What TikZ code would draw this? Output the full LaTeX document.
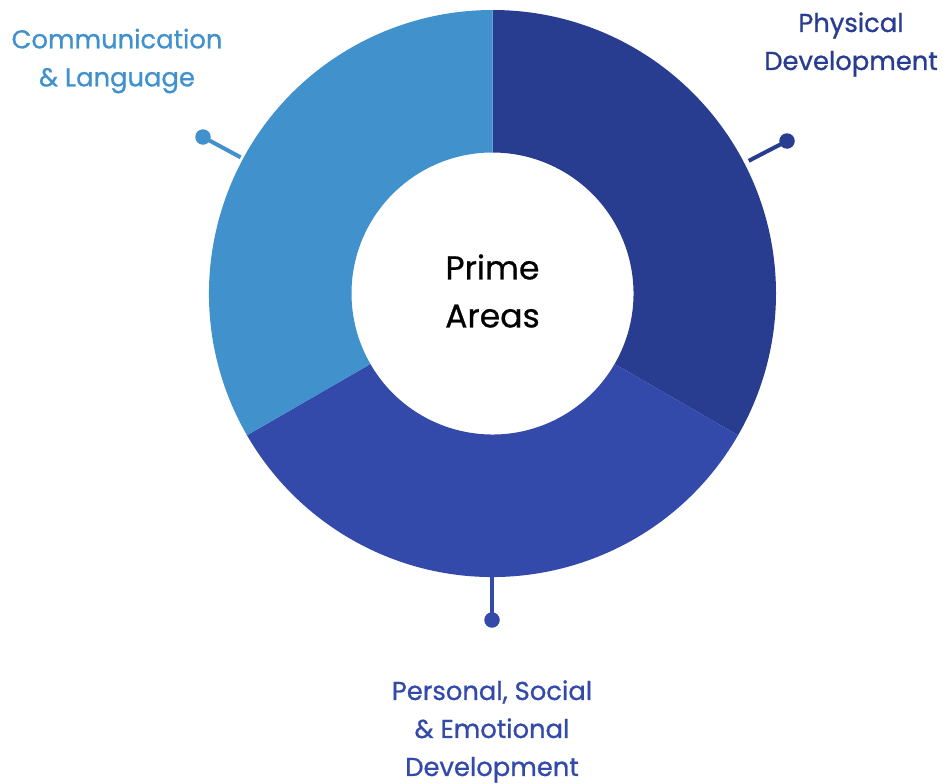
\documentclass[tikz,border=0pt]{standalone}
\usepackage{fontspec}
\setmainfont{Poppins}
\newfontfamily\medfont[FakeBold=0.9]{Poppins}
\newfontfamily\ctrfont[FakeBold=0.6]{Poppins}
\usetikzlibrary{calc}
\definecolor{cLight}{HTML}{4091CC}
\definecolor{cDark}{HTML}{283D8F}
\definecolor{cMid}{HTML}{334AAA}
\begin{document}
\begin{tikzpicture}[x=1pt,y=-1pt,
  lbl/.style={align=center,font=\medfont\fontsize{25.8}{38}\selectfont,inner sep=0pt},
  dotnode/.style={circle,fill,inner sep=0pt,minimum size=15.5pt},
  conn/.style={line width=4pt}]
\useasboundingbox (0,0) rectangle (948,784);
\coordinate (c) at (492.5,293.5);
\def\Ro{283.5}\def\Ri{141}
\fill[cDark] (c) ++(-90:\Ro) arc[start angle=-90,end angle=30,radius=\Ro] -- ++(210:{\Ro-\Ri}) arc[start angle=30,end angle=-90,radius=\Ri] -- cycle;
\fill[cMid] (c) ++(30:\Ro) arc[start angle=30,end angle=150,radius=\Ro] -- ++(-30:{\Ro-\Ri}) arc[start angle=150,end angle=30,radius=\Ri] -- cycle;
\fill[cLight] (c) ++(150:\Ro) arc[start angle=150,end angle=270,radius=\Ro] -- ++(90:{\Ro-\Ri}) arc[start angle=270,end angle=150,radius=\Ri] -- cycle;
\node[font=\ctrfont\fontsize{33}{48}\selectfont,align=center,inner sep=0pt] (center) at (492.5,291) {Prime\\Areas};
\node[dotnode,fill=cLight] (dL) at (203,137) {};
\node[dotnode,fill=cDark] (dR) at (787,141) {};
\node[dotnode,fill=cMid] (dB) at (492,620) {};
\coordinate (eL) at ($(c)!0.87!(dL)$);
\coordinate (eR) at ($(c)!0.87!(dR)$);
\coordinate (eB) at (492,576);
\draw[conn,cLight] (dL.center) -- (eL);
\draw[conn,cDark] (dR.center) -- (eR);
\draw[conn,cMid] (dB.center) -- (eB);
\node[lbl,text=cLight] (tL) at (117,61) {Communication\\\& Language};
\node[lbl,text=cDark] (tR) at (851,44.5) {Physical\\Development};
\node[lbl,text=cMid] (tB) at (492,731.5) {Personal, Social\\\& Emotional\\Development};
\end{tikzpicture}
\end{document}
